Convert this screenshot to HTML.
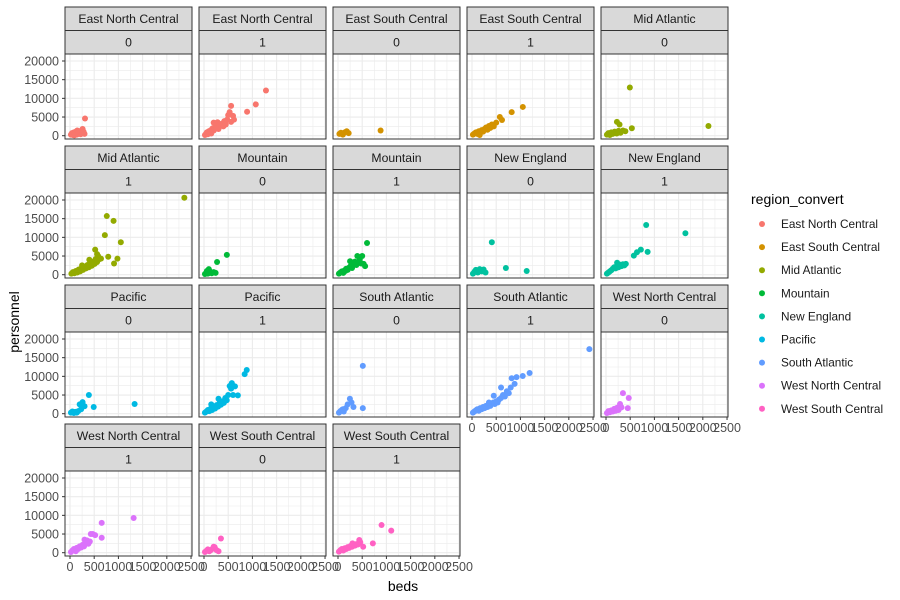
<!DOCTYPE html>
<html><head><meta charset="utf-8"><style>
body{margin:0;background:#fff;}
svg{display:block;font-family:"Liberation Sans",Arial,sans-serif;}
</style></head><body>
<svg id="chart" width="900" height="600"></svg>
<script>
const regions=["East North Central","East South Central","Mid Atlantic","Mountain","New England","Pacific","South Atlantic","West North Central","West South Central"];
const colors=["#F8766D","#D39200","#93AA00","#00BA38","#00C19F","#00B9E3","#619CFF","#DB72FB","#FF61C3"];
const facetRegion=[0,0,1,1,2,2,3,3,4,4,5,5,6,6,7,7,8,8];
const facetFlag=[0,1,0,1,0,1,0,1,0,1,0,1,0,1,0,1,0,1];
const xTicks=[0,500,1000,1500,2000,2500];
const yTicks=[0,5000,10000,15000,20000];
const pts=[
[[20,300],[40,700],[60,200],[80,900],[100,500],[120,1100],[140,300],[160,800],[180,600],[200,1200],[220,400],[240,900],[260,1800],[280,1100],[300,500],[310,4600],[150,1400],[90,100]],
[[20,200],[40,500],[60,900],[80,400],[100,1200],[120,800],[140,1500],[160,1100],[180,2000],[200,1400],[220,1800],[240,2600],[260,1900],[280,3600],[300,2400],[320,3000],[350,2700],[380,3300],[400,2500],[420,3900],[450,3000],[480,4300],[500,5500],[530,6300],[560,3700],[600,5300],[560,8000],[620,4300],[890,6400],[1070,8400],[1280,12100],[200,3500],[300,1800],[150,600]],
[[30,500],[60,800],[100,300],[140,900],[180,1200],[220,700],[880,1400]],
[[20,300],[50,600],[80,900],[110,500],[140,1200],[170,800],[200,1500],[230,1100],[260,1800],[290,2200],[320,1600],[350,2600],[380,2100],[410,3000],[450,2500],[500,3500],[575,5000],[620,4200],[820,6300],[1050,7700],[160,200]],
[[20,300],[50,700],[80,200],[110,900],[140,500],[180,1100],[220,600],[226,3700],[260,1300],[300,800],[350,1400],[400,1200],[493,12900],[534,2000],[2116,2600],[280,3000]],
[[30,300],[60,700],[90,400],[120,1000],[150,600],[180,1400],[210,900],[240,1800],[270,1300],[300,2200],[330,1700],[360,2600],[390,2000],[420,3000],[450,2400],[480,3500],[510,2900],[530,4200],[560,3400],[580,5000],[520,6700],[560,5500],[600,4100],[640,4300],[720,10600],[760,15700],[900,14400],[1050,8700],[790,4800],[910,3000],[980,4300],[2362,20600],[250,2500],[400,4000]],
[[20,200],[50,600],[80,300],[100,1500],[130,800],[160,400],[200,700],[240,500],[270,3400],[472,5300],[60,1000]],
[[20,300],[50,600],[80,900],[110,500],[140,1200],[170,1600],[200,1300],[230,1900],[260,2300],[290,1800],[320,2700],[350,3500],[380,2600],[400,5000],[420,3200],[450,4000],[480,3000],[500,5000],[530,2900],[560,2300],[600,8500],[250,3600],[150,1000]],
[[20,300],[50,800],[80,1300],[120,600],[160,1500],[200,900],[240,1400],[410,8700],[700,1800],[1130,1000],[280,600]],
[[20,300],[50,600],[80,900],[110,1200],[140,1600],[170,2000],[200,1700],[230,2400],[260,2000],[290,2700],[320,2300],[350,2800],[380,2500],[410,2900],[230,3200],[575,5100],[640,6000],[720,6700],[860,6100],[830,13300],[1640,11100]],
[[20,300],[50,600],[80,200],[110,500],[140,300],[170,700],[200,2500],[230,1200],[260,3100],[300,2000],[390,5000],[490,1800],[1335,2600]],
[[20,300],[50,600],[80,1000],[110,700],[140,1400],[170,1000],[200,1800],[230,1400],[260,2300],[290,1900],[320,2800],[350,2400],[380,3300],[410,2900],[440,4200],[470,3600],[500,5000],[530,7400],[560,6700],[600,5000],[640,7300],[700,4900],[840,10600],[883,11700],[575,8200],[300,4000],[150,2500]],
[[20,300],[50,700],[80,1000],[120,600],[160,1500],[200,2500],[246,4000],[280,3000],[320,1800],[513,1500],[513,12800],[100,1200]],
[[20,300],[50,600],[80,900],[110,1200],[140,800],[170,1500],[200,1200],[230,1800],[260,1500],[290,2100],[320,1800],[350,2400],[380,2100],[410,2700],[440,3000],[470,2600],[500,3300],[530,3000],[560,3800],[600,4200],[640,5000],[680,4600],[720,6000],[760,5500],[800,7000],[820,9500],[880,8000],[920,9800],[1048,10100],[1190,10900],[2424,17300],[450,4800],[600,7000],[350,3000]],
[[20,200],[50,700],[80,400],[110,900],[140,600],[170,1300],[200,800],[230,1600],[260,1000],[290,2600],[350,5500],[470,4200],[450,1500],[320,1700]],
[[20,200],[50,600],[80,1000],[110,700],[140,1300],[170,1000],[200,1700],[230,1400],[260,2100],[290,1700],[320,2500],[350,3300],[380,2400],[410,3000],[430,5000],[470,5000],[520,4700],[655,8000],[655,4000],[1315,9300],[300,3500],[120,400]],
[[20,200],[50,500],[80,900],[110,400],[140,700],[180,1100],[220,1500],[260,700],[300,400],[350,3800],[200,1600]],
[[20,300],[50,700],[80,1000],[110,600],[140,1200],[170,1000],[200,1500],[230,1300],[260,1800],[290,1600],[320,2000],[350,1900],[380,2300],[410,2200],[440,3400],[460,2800],[520,1600],[720,2500],[900,7400],[1100,5900],[300,2500]]
];

const svg=document.getElementById('chart');
const NS="http://www.w3.org/2000/svg";
function mk(tag,attrs,parent){const e=document.createElementNS(NS,tag);for(const k in attrs)e.setAttribute(k,attrs[k]);(parent||svg).appendChild(e);return e;}
const colX=[65,199,333,467,601], rowY=[7,146,285,424];
const PW=127, SH=23.5, PH=85;
const xMin=-103,xMax=2520,yMin=-884,yMax=21874;
function sx(c,v){return colX[c]+(v-xMin)/(xMax-xMin)*PW;}
function sy(r,v){const top=rowY[r]+2*SH;return top+PH-(v-yMin)/(yMax-yMin)*PH;}

for(let i=0;i<18;i++){
  const c=i%5, r=Math.floor(i/5);
  const x0=colX[c], top=rowY[r], ptop=top+2*SH;
  const g=mk('g',{});
  
  
  const s1=mk('rect',{x:x0,y:top,width:PW,height:SH,fill:'#d9d9d9',stroke:'#333',"stroke-width":1},g);
  
  
  const s2=mk('rect',{x:x0,y:top+SH,width:PW,height:SH,fill:'#d9d9d9',stroke:'#333',"stroke-width":1},g);
  
  
  const t1=mk('text',{x:x0+PW/2,y:top+16,"text-anchor":"middle","font-size":"12.2",fill:'#1a1a1a'},g);
  t1.textContent=regions[facetRegion[i]];
  
  
  const t2=mk('text',{x:x0+PW/2,y:top+SH+16,"text-anchor":"middle","font-size":"12.2",fill:'#1a1a1a'},g);
  t2.textContent=String(facetFlag[i]);
  
  
  mk('rect',{x:x0,y:ptop,width:PW,height:PH,fill:'#fff'},g);
  for(let v=250;v<2520;v+=500) mk('line',{x1:sx(c,v),x2:sx(c,v),y1:ptop,y2:ptop+PH,stroke:'#ebebeb',"stroke-width":0.6},g);
  for(let v=2500;v<21874;v+=5000) mk('line',{x1:x0,x2:x0+PW,y1:sy(r,v),y2:sy(r,v),stroke:'#ebebeb',"stroke-width":0.6},g);
  xTicks.forEach(v=>mk('line',{x1:sx(c,v),x2:sx(c,v),y1:ptop,y2:ptop+PH,stroke:'#ebebeb',"stroke-width":1.1},g));
  yTicks.forEach(v=>mk('line',{x1:x0,x2:x0+PW,y1:sy(r,v),y2:sy(r,v),stroke:'#ebebeb',"stroke-width":1.1},g));
  const col=colors[facetRegion[i]];
  pts[i].forEach(p=>{
    const d=mk('circle',{cx:sx(c,p[0]),cy:sy(r,p[1]),r:3,fill:col},g);
    
    
  });
  mk('rect',{x:x0,y:ptop,width:PW,height:PH,fill:'none',stroke:'#333',"stroke-width":1},g);
  if(c===0){
    yTicks.forEach(v=>{
      mk('line',{x1:x0-3,x2:x0,y1:sy(r,v),y2:sy(r,v),stroke:'#333'},g);
      const t=mk('text',{x:x0-6,y:sy(r,v)+4.5,"text-anchor":"end","font-size":"12.5",fill:'#4d4d4d'},g);
      t.textContent=String(v);
      
      
    });
  }
  if(r===3||(r===2&&c>=3)){
    xTicks.forEach(v=>{
      mk('line',{x1:sx(c,v),x2:sx(c,v),y1:ptop+PH,y2:ptop+PH+3,stroke:'#333'},g);
      const t=mk('text',{x:sx(c,v),y:ptop+PH+15,"text-anchor":"middle","font-size":"12.5",fill:'#4d4d4d'},g);
      t.textContent=String(v);
      
      
    });
  }
}
const xt=mk('text',{x:403,y:591,"text-anchor":"middle","font-size":"14",fill:'#000'});
xt.textContent='beds';


const yt=mk('text',{x:0,y:0,"text-anchor":"middle","font-size":"14",fill:'#000',transform:'translate(19,322) rotate(-90)'});
yt.textContent='personnel';


const lt=mk('text',{x:751,y:204,"font-size":"14",fill:'#000'});
lt.textContent='region_convert';


regions.forEach((name,k)=>{
  const y=224+k*23.1;
  const d=mk('circle',{cx:762,cy:y,r:3,fill:colors[k]});
  
  
  const t=mk('text',{x:781,y:y+4,"font-size":"11.8",fill:'#1a1a1a'});
  t.textContent=name;
  
  
});
</script>
</body></html>
